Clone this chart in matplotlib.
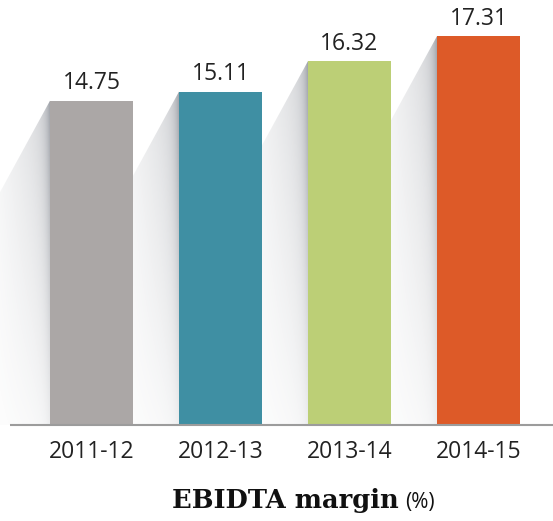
import numpy as np
import matplotlib
matplotlib.use("Agg")
import matplotlib.pyplot as plt
from matplotlib.patches import Polygon

years = ["2011-12", "2012-13", "2013-14", "2014-15"]
margin = [14.75, 15.11, 16.32, 17.31]
colors = ["#aba7a6", "#3f8fa3", "#bccf76", "#dd5a28"]

W, H = 553, 521
fig = plt.figure(figsize=(W / 100, H / 100), dpi=100)
ax = fig.add_axes([0, (H - 425) / H, 1, 425 / H])

ylo, yhi = 1.9, 18.74
xlo, xhi = -91.5 / 129, (W - 91.5) / 129
bw = 83 / 129
d = 0.62          # shadow reach to the left (x units)
drop = 5.8        # vertical drop of the diagonal edge (y units)

# gradient for the shadows: dark next to the bar, fading left and downward
nx, ny = 200, 300
u = np.linspace(1, 0, nx)[None, :]          # 0 at bar edge, 1 far left
t = np.linspace(0, 1, ny)[:, None]          # 0 top, 1 baseline
a = (0.30 * (1 - u) ** 1.3 + 0.35 * np.exp(-u / 0.06)) * (1 - 0.8 * t ** 0.9)
rgba = np.zeros((ny, nx, 4))
rgba[..., :3] = np.array([0.42, 0.44, 0.48])
rgba[..., 3] = np.clip(a, 0, 1)

for i, v in enumerate(margin):
    x0 = i - bw / 2
    poly = Polygon([(x0, v), (x0 - d, v - drop), (x0 - d, ylo), (x0, ylo)],
                   closed=True, transform=ax.transData)
    im = ax.imshow(rgba, extent=[x0 - d, x0, ylo, v], aspect="auto",
                   interpolation="bilinear", zorder=1)
    im.set_clip_path(poly)

ax.bar(range(len(years)), margin, width=bw, color=colors, zorder=3)
for i, v in enumerate(margin):
    ax.annotate(f"{v:.2f}", (i, v), xytext=(0, 4), textcoords="offset points",
                ha="center", va="bottom", fontsize=16.5, color="#222222",
                family="Open Sans", zorder=4)

ax.plot([(10 - 91.5) / 129, xhi], [ylo, ylo], color="#9c9c9c", lw=1.5,
        clip_on=False, zorder=5, solid_capstyle="butt")

ax.set_xlim(xlo, xhi)
ax.set_ylim(ylo, yhi)
ax.set_xticks(range(len(years)))
ax.set_xticklabels(years, family="Open Sans", fontsize=16.5, color="#222222")
ax.tick_params(axis="x", length=0, pad=11)
ax.set_yticks([])
for s in ax.spines.values():
    s.set_visible(False)

fig.text(399 / W, (H - 508) / H, "EBIDTA margin", ha="right", va="baseline",
         family=["DejaVu Serif", "Liberation Serif"], fontweight="bold",
         fontsize=18.5, color="#111111")
fig.text(405 / W, (H - 508) / H, "(%)", ha="left", va="baseline",
         family="Open Sans", fontsize=15, color="#111111")

fig.savefig("out.png", dpi=100)
